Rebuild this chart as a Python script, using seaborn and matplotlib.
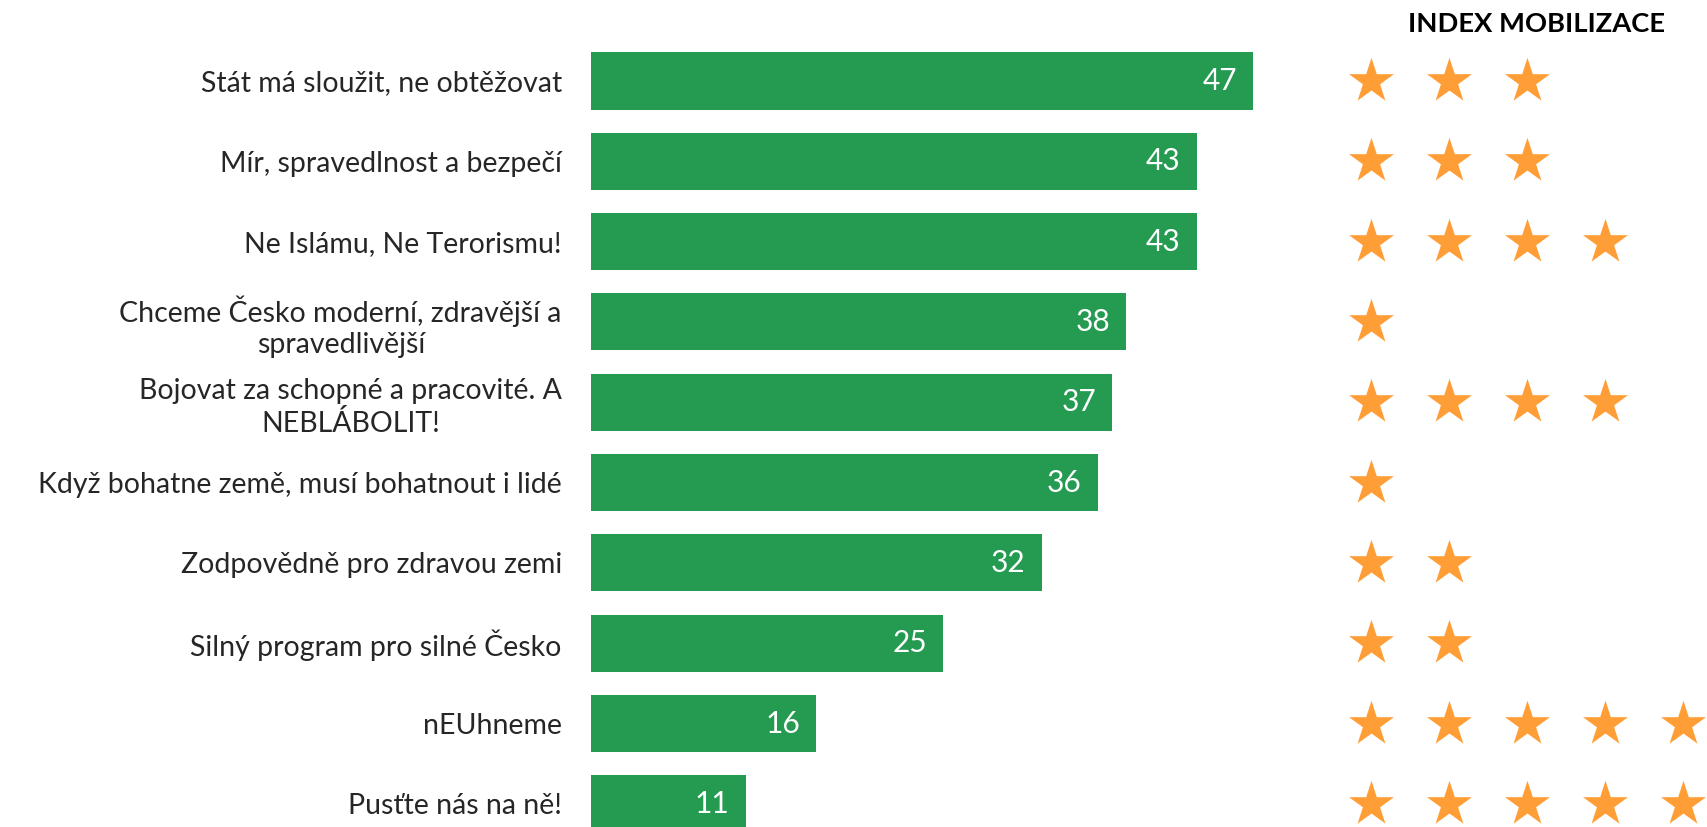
import pandas as pd
import matplotlib.pyplot as plt
import seaborn as sns

slogans = [
    "Stát má sloužit, ne obtěžovat",
    "Mír, spravedlnost a bezpečí",
    "Ne Islámu, Ne Terorismu!",
    "Chceme Česko moderní, zdravější a\nspravedlivější",
    "Bojovat za schopné a pracovité. A\nNEBLÁBOLIT!",
    "Když bohatne země, musí bohatnout i lidé",
    "Zodpovědně pro zdravou zemi",
    "Silný program pro silné Česko",
    "nEUhneme",
    "Pusťte nás na ně!",
]
scores = [47, 43, 43, 38, 37, 36, 32, 25, 16, 11]
stars = [3, 3, 4, 1, 4, 1, 2, 2, 5, 5]

GREEN = "#249B51"
ORANGE = "#FF9E37"

sns.set_style("white")
plt.rcParams["font.family"] = ["Lato", "DejaVu Sans"]

W, H = 1707, 827
fig = plt.figure(figsize=(W / 100, H / 100), dpi=100)

# bar panel: left edge at x=591px, value 47 at x=1253px
row_h = 80.32
top = 81.0 - row_h / 2
bottom = top + row_h * 10
ax = fig.add_axes([591 / W, (H - bottom) / H, 662 / W, (bottom - top) / H])

df = pd.DataFrame({"slogan": slogans, "score": scores})
sns.barplot(data=df, x="score", y="slogan", color=GREEN, width=0.71,
            saturation=1, ax=ax, edgecolor="none")
ax.set_xlim(0, 47)
ax.set_ylim(9.5, -0.5)
ax.set_xlabel("")
ax.set_ylabel("")
ax.set_xticks([])
ax.tick_params(axis="y", length=0, pad=21, labelsize=20.5)
for lab in ax.get_yticklabels():
    lab.set_multialignment("center")
    lab.set_linespacing(1.25)
sns.despine(ax=ax, left=True, bottom=True)

for i, v in enumerate(scores):
    ax.text(v - 1.15, i, str(v), ha="right", va="center", color="white",
            fontsize=21.5, clip_on=False)

# stars panel
ax2 = fig.add_axes([1332 / W, (H - bottom) / H, 390 / W, (bottom - top) / H])
star_df = pd.DataFrame(
    [(k, i) for i, n in enumerate(stars) for k in range(n)],
    columns=["k", "row"],
)
sns.scatterplot(data=star_df, x="k", y="row", marker="*", s=1160,
                color=ORANGE, linewidth=0, ax=ax2, clip_on=False, legend=False)
ax2.set_xlim(-0.5, 4.5)
ax2.set_ylim(9.5, -0.5)
ax2.axis("off")

fig.text(1537 / W, 1 - 24 / H, "INDEX MOBILIZACE", ha="center", va="center",
         fontsize=19.7, fontweight="bold", color="black")

fig.savefig("out.png", dpi=100)
